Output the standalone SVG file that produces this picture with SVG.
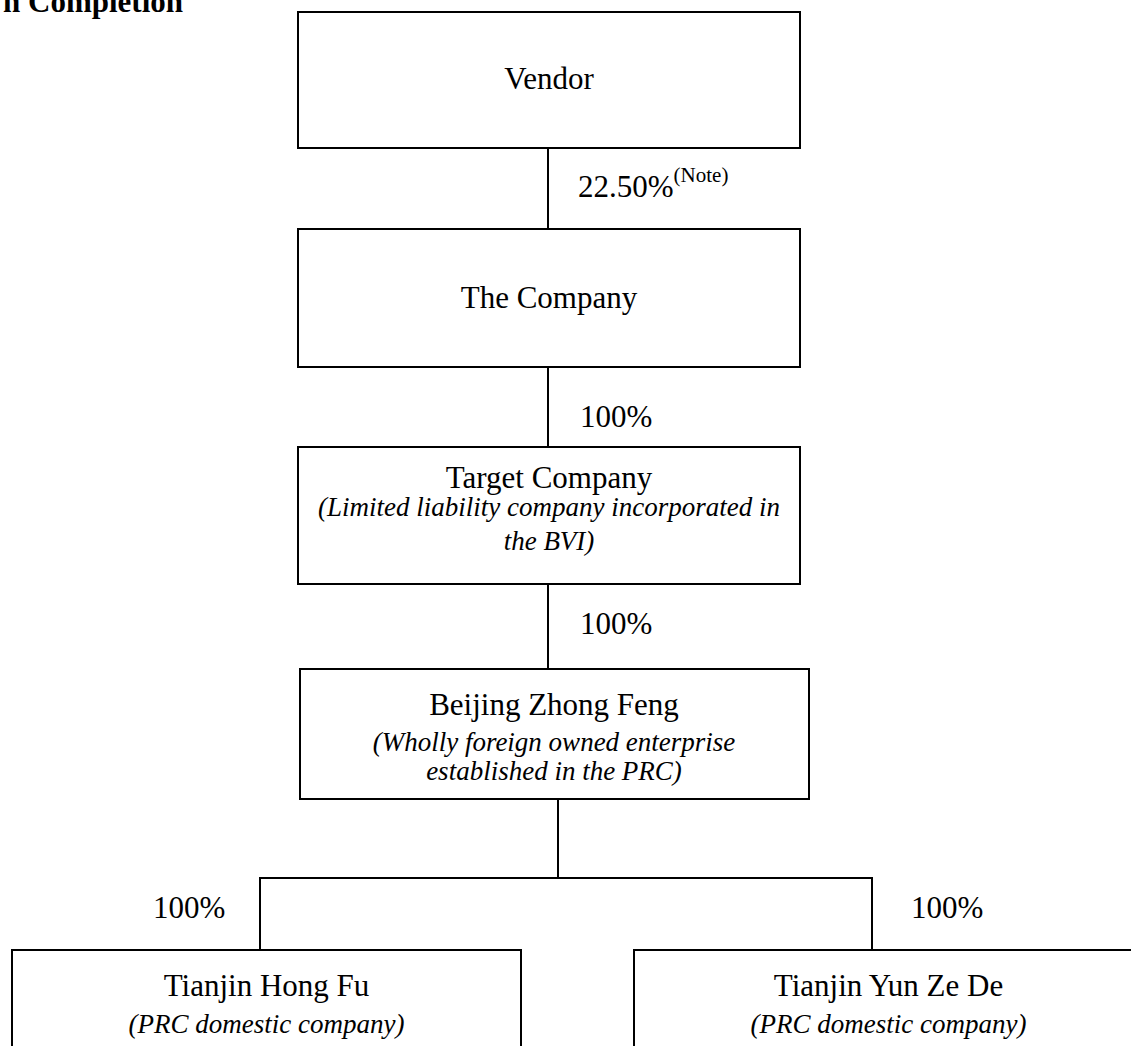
<svg xmlns="http://www.w3.org/2000/svg" width="1131" height="1046" viewBox="0 0 1131 1046">
<style>
.box{fill:#fff;stroke:#000;stroke-width:2}
.ln{stroke:#000;stroke-width:2;fill:none}
.t{font-family:"Liberation Serif","Times New Roman",serif;font-size:31px;fill:#000}
.i{font-family:"Liberation Serif","Times New Roman",serif;font-size:27px;font-style:italic;fill:#000}
.c{text-anchor:middle}
.sup{font-size:21px}
.title{font-family:"Liberation Serif","Times New Roman",serif;font-size:31px;font-weight:bold;fill:#000}
</style>
<rect width="1131" height="1046" fill="#fff"/>
<text class="title" x="183" y="12" text-anchor="end">n Completion</text>
<g id="connectors">
<line class="ln" x1="548" y1="148" x2="548" y2="229"/>
<line class="ln" x1="548" y1="367" x2="548" y2="447"/>
<line class="ln" x1="548" y1="584" x2="548" y2="669"/>
<line class="ln" x1="558" y1="799" x2="558" y2="878"/>
<polyline class="ln" points="260,950 260,878 872,878 872,950"/>
<text class="t" x="578" y="197">22.50%<tspan class="sup" dy="-15">(Note)</tspan></text>
<text class="t" x="580" y="427">100%</text>
<text class="t" x="580" y="634">100%</text>
<text class="t" x="153" y="918">100%</text>
<text class="t" x="911" y="918">100%</text>
</g>
<g id="vendor">
<rect class="box" x="298" y="12" width="502" height="136"/>
<text class="t c" x="549" y="89">Vendor</text>
</g>
<g id="company">
<rect class="box" x="298" y="229" width="502" height="138"/>
<text class="t c" x="549" y="308">The Company</text>
</g>
<g id="target">
<rect class="box" x="298" y="447" width="502" height="137"/>
<text class="t c" x="549" y="488">Target Company</text>
<text class="i c" x="549" y="516">(Limited liability company incorporated in</text>
<text class="i c" x="549" y="550">the BVI)</text>
</g>
<g id="beijing">
<rect class="box" x="300" y="669" width="509" height="130"/>
<text class="t c" x="554" y="715">Beijing Zhong Feng</text>
<text class="i c" x="554" y="751">(Wholly foreign owned enterprise</text>
<text class="i c" x="554" y="780">established in the PRC)</text>
</g>
<g id="hongfu">
<rect class="box" x="12" y="950" width="509" height="120"/>
<text class="t c" x="266.5" y="996">Tianjin Hong Fu</text>
<text class="i c" x="266.5" y="1033">(PRC domestic company)</text>
</g>
<g id="yunzede">
<rect class="box" x="634" y="950" width="509" height="120"/>
<text class="t c" x="888.5" y="996">Tianjin Yun Ze De</text>
<text class="i c" x="888.5" y="1033">(PRC domestic company)</text>
</g>
</svg>
